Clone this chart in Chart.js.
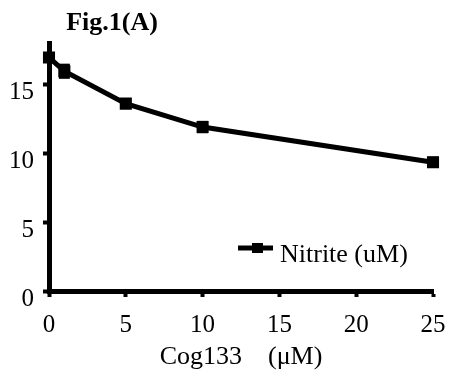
<!DOCTYPE html>
<html><head><meta charset="utf-8">
<script src="https://cdn.jsdelivr.net/npm/chart.js@4"></script>
<style>html,body{margin:0;padding:0;background:#fff}#wrap{width:449px;height:378px}</style>
</head><body><div id="wrap"><canvas id="c" width="449" height="378"></canvas></div>
<script>
const concentrations = [0, 1, 5, 10, 25];
const nitrite = [16.95, 15.95, 13.6, 11.9, 9.35];
const nitriteErr = [0.35, 0.55, 0.2, 0.45, 0.4];
const yTicks = [0, 5, 10, 15];
const xTicks = [0, 5, 10, 15, 20, 25];
const titleText = 'Fig.1(A)';
const xTitle = 'Cog133    (\u03bcM)';
const seriesLabel = 'Nitrite (uM)';

const serif = "'Liberation Serif', 'DejaVu Serif', serif";

const errorBars = {
  id: 'errorBars',
  afterDatasetsDraw(chart) {
    const ctx = chart.ctx, x = chart.scales.x, y = chart.scales.y;
    ctx.save();
    ctx.fillStyle = '#000';
    concentrations.forEach((c, i) => {
      const px = x.getPixelForValue(c);
      const top = y.getPixelForValue(nitrite[i] + nitriteErr[i]);
      const bot = y.getPixelForValue(nitrite[i] - nitriteErr[i]);
      ctx.fillRect(px - 5.5, Math.min(top, y.getPixelForValue(nitrite[i]) - 5), 11, Math.max(bot - top, 10));
    });
    ctx.restore();
  }
};

const titleAndLegend = {
  id: 'titleAndLegend',
  afterDraw(chart) {
    const ctx = chart.ctx;
    ctx.save();
    ctx.fillStyle = '#000';
    ctx.font = 'bold 26px ' + serif;
    ctx.textAlign = 'center';
    ctx.textBaseline = 'alphabetic';
    ctx.fillText(titleText, 112, 30);
    // legend
    const lx = 238, ly = 248;
    ctx.strokeStyle = '#000';
    ctx.lineWidth = 5;
    ctx.beginPath(); ctx.moveTo(lx, ly); ctx.lineTo(lx + 35, ly); ctx.stroke();
    ctx.fillRect(lx + 14, ly - 5, 11, 10);
    ctx.font = '26px ' + serif;
    ctx.textAlign = 'left';
    ctx.textBaseline = 'alphabetic';
    ctx.fillText(seriesLabel, lx + 42, 262);
    ctx.restore();
  }
};

new Chart(document.getElementById('c'), {
  type: 'line',
  data: {
    datasets: [{
      label: seriesLabel,
      data: concentrations.map((c, i) => ({x: c, y: nitrite[i]})),
      borderColor: '#000',
      backgroundColor: '#000',
      borderWidth: 5,
      pointStyle: 'rect',
      pointRadius: 5,
      pointHoverRadius: 5,
      tension: 0,
      clip: false
    }]
  },
  options: {
    responsive: false,
    animation: false,
    events: [],
    layout: {padding: {top: 43, right: 16, left: 0, bottom: 5}},
    plugins: {legend: {display: false}, title: {display: false}, tooltip: {enabled: false}},
    scales: {
      x: {
        type: 'linear', min: 0, max: 25,
        afterBuildTicks: s => { s.ticks = xTicks.map(v => ({value: v})); },
        afterFit: s => { s.height = 82; s.paddingLeft = 0; s.paddingRight = 0; },
        border: {display: true, color: '#000', width: 5},
        grid: {display: true, drawOnChartArea: false, drawTicks: true, tickLength: 6, tickWidth: 4, tickColor: '#000'},
        ticks: {color: '#000', font: {family: serif, size: 25}, padding: 13, maxRotation: 0},
        title: {display: true, text: xTitle, color: '#000', font: {family: serif, size: 26}, padding: {top: 0, bottom: 0}}
      },
      y: {
        type: 'linear', min: 0, max: 18,
        afterBuildTicks: s => { s.ticks = yTicks.map(v => ({value: v})); },
        afterFit: s => { s.width = 49; },
        border: {display: true, color: '#000', width: 5},
        grid: {display: true, drawOnChartArea: false, drawTicks: true, tickLength: 6, tickWidth: 4, tickColor: '#000'},
        ticks: {color: '#000', font: {family: serif, size: 25}, padding: 9, labelOffset: 8}
      }
    }
  },
  plugins: [errorBars, titleAndLegend]
});
</script></body></html>
